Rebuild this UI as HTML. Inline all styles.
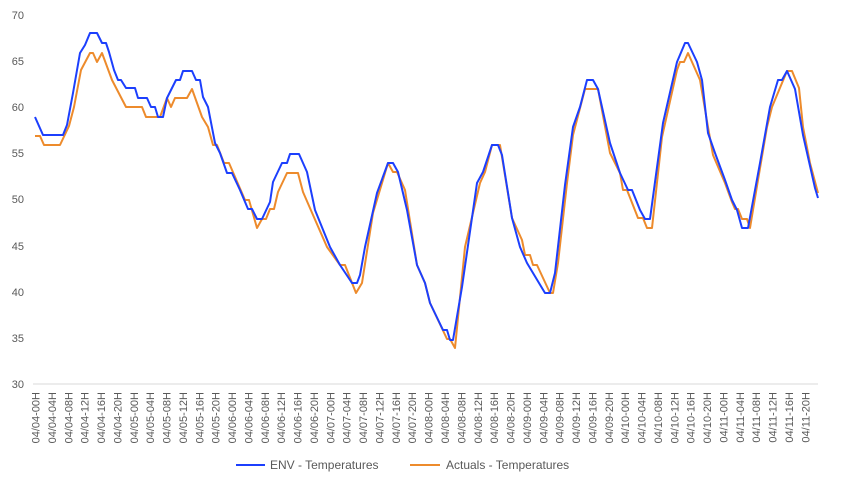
<!DOCTYPE html>
<html><head><meta charset="utf-8"><style>
body{margin:0;background:#fff;width:841px;height:487px;overflow:hidden}
text{font-family:"Liberation Sans",sans-serif;fill:#595959}
</style></head><body>
<svg width="841" height="487" xmlns="http://www.w3.org/2000/svg">
<g font-size="11" text-anchor="end">
<text x="24" y="19">70</text><text x="24" y="65">65</text><text x="24" y="111">60</text><text x="24" y="157">55</text><text x="24" y="203">50</text><text x="24" y="250">45</text><text x="24" y="296">40</text><text x="24" y="342">35</text><text x="24" y="388">30</text>
</g>
<line x1="33" y1="384" x2="818" y2="384" stroke="#d9d9d9" stroke-width="1"/>
<g font-size="11" text-anchor="end">
<text transform="translate(39.5,392) rotate(-90)">04/04-00H</text>
<text transform="translate(55.9,392) rotate(-90)">04/04-04H</text>
<text transform="translate(72.3,392) rotate(-90)">04/04-08H</text>
<text transform="translate(88.6,392) rotate(-90)">04/04-12H</text>
<text transform="translate(105.0,392) rotate(-90)">04/04-16H</text>
<text transform="translate(121.4,392) rotate(-90)">04/04-20H</text>
<text transform="translate(137.8,392) rotate(-90)">04/05-00H</text>
<text transform="translate(154.2,392) rotate(-90)">04/05-04H</text>
<text transform="translate(170.5,392) rotate(-90)">04/05-08H</text>
<text transform="translate(186.9,392) rotate(-90)">04/05-12H</text>
<text transform="translate(203.3,392) rotate(-90)">04/05-16H</text>
<text transform="translate(219.7,392) rotate(-90)">04/05-20H</text>
<text transform="translate(236.1,392) rotate(-90)">04/06-00H</text>
<text transform="translate(252.4,392) rotate(-90)">04/06-04H</text>
<text transform="translate(268.8,392) rotate(-90)">04/06-08H</text>
<text transform="translate(285.2,392) rotate(-90)">04/06-12H</text>
<text transform="translate(301.6,392) rotate(-90)">04/06-16H</text>
<text transform="translate(318.0,392) rotate(-90)">04/06-20H</text>
<text transform="translate(334.3,392) rotate(-90)">04/07-00H</text>
<text transform="translate(350.7,392) rotate(-90)">04/07-04H</text>
<text transform="translate(367.1,392) rotate(-90)">04/07-08H</text>
<text transform="translate(383.5,392) rotate(-90)">04/07-12H</text>
<text transform="translate(399.9,392) rotate(-90)">04/07-16H</text>
<text transform="translate(416.2,392) rotate(-90)">04/07-20H</text>
<text transform="translate(432.6,392) rotate(-90)">04/08-00H</text>
<text transform="translate(449.0,392) rotate(-90)">04/08-04H</text>
<text transform="translate(465.4,392) rotate(-90)">04/08-08H</text>
<text transform="translate(481.8,392) rotate(-90)">04/08-12H</text>
<text transform="translate(498.1,392) rotate(-90)">04/08-16H</text>
<text transform="translate(514.5,392) rotate(-90)">04/08-20H</text>
<text transform="translate(530.9,392) rotate(-90)">04/09-00H</text>
<text transform="translate(547.3,392) rotate(-90)">04/09-04H</text>
<text transform="translate(563.7,392) rotate(-90)">04/09-08H</text>
<text transform="translate(580.0,392) rotate(-90)">04/09-12H</text>
<text transform="translate(596.4,392) rotate(-90)">04/09-16H</text>
<text transform="translate(612.8,392) rotate(-90)">04/09-20H</text>
<text transform="translate(629.2,392) rotate(-90)">04/10-00H</text>
<text transform="translate(645.6,392) rotate(-90)">04/10-04H</text>
<text transform="translate(661.9,392) rotate(-90)">04/10-08H</text>
<text transform="translate(678.3,392) rotate(-90)">04/10-12H</text>
<text transform="translate(694.7,392) rotate(-90)">04/10-16H</text>
<text transform="translate(711.1,392) rotate(-90)">04/10-20H</text>
<text transform="translate(727.5,392) rotate(-90)">04/11-00H</text>
<text transform="translate(743.8,392) rotate(-90)">04/11-04H</text>
<text transform="translate(760.2,392) rotate(-90)">04/11-08H</text>
<text transform="translate(776.6,392) rotate(-90)">04/11-12H</text>
<text transform="translate(793.0,392) rotate(-90)">04/11-16H</text>
<text transform="translate(809.4,392) rotate(-90)">04/11-20H</text>
</g>
<polyline fill="none" stroke="#ED8B2C" stroke-width="2" stroke-linejoin="round" points="35,136 40,136 44,145 60,145 69,126 74,107 81,70 90,53 93,53 97,62 102,53 112,80 126,107 142,107 146,117 160,117 167,98 171,107 175,98 187,98 192,89 202,117 208,127 213,145 217,145 224,163 229,163 245,200 249,200 257,228 262,219 266,219 270,209 274,209 278,192 287,173 298,173 303,192 313,215 327,247 340,265 345,265 356,293 362,283 373,213 388,163 393,172 397,172 405,190 417,265 425,283 430,303 447,339 450,339 455,348 465,247 480,183 485,172 492,145 500,145 512,218 522,240 525,255 530,255 533,265 537,265 550,293 553,293 558,263 567,183 573,135 585,89 598,89 610,153 620,173 623,190 627,190 638,218 643,218 647,228 652,228 662,137 677,70 680,62 684,62 688,53 700,80 708,127 713,155 725,183 732,202 735,209 738,209 742,219 747,219 750,228 758,180 767,127 772,107 787,71 792,71 799,88 803,127 810,163 818,193"/>
<polyline fill="none" stroke="#1C3FFD" stroke-width="2" stroke-linejoin="round" points="35,117 43,135 63,135 67,125 73,93 80,53 85,45 90,33 97,33 102,43 106,43 109,52 114,70 118,80 121,80 126,88 135,88 138,98 147,98 151,107 155,107 158,117 163,117 167,98 172,88 176,80 180,80 183,71 192,71 196,80 200,80 203,97 208,107 215,143 220,153 227,173 232,173 240,190 248,209 252,209 257,219 262,219 270,202 273,182 282,163 287,163 290,154 299,154 307,172 315,210 330,247 340,265 352,283 357,283 360,275 365,247 377,193 388,163 393,163 398,172 407,210 417,265 425,283 430,303 443,330 447,330 450,340 453,340 462,287 477,183 483,172 492,145 498,145 502,155 512,218 520,247 527,263 533,273 545,293 550,293 555,273 565,185 573,127 580,107 587,80 593,80 598,89 610,143 620,173 628,190 632,190 640,210 645,219 650,219 663,123 677,62 685,43 688,43 697,62 702,80 708,133 715,153 725,180 732,200 737,210 742,228 748,228 760,163 770,107 778,80 782,80 787,71 795,89 803,135 815,188 818,198"/>
<line x1="236" y1="465" x2="265" y2="465" stroke="#1C3FFD" stroke-width="2"/>
<text x="270" y="469" font-size="12">ENV - Temperatures</text>
<line x1="410" y1="465" x2="440" y2="465" stroke="#ED8B2C" stroke-width="2"/>
<text x="446" y="469" font-size="12">Actuals - Temperatures</text>
</svg>
</body></html>
